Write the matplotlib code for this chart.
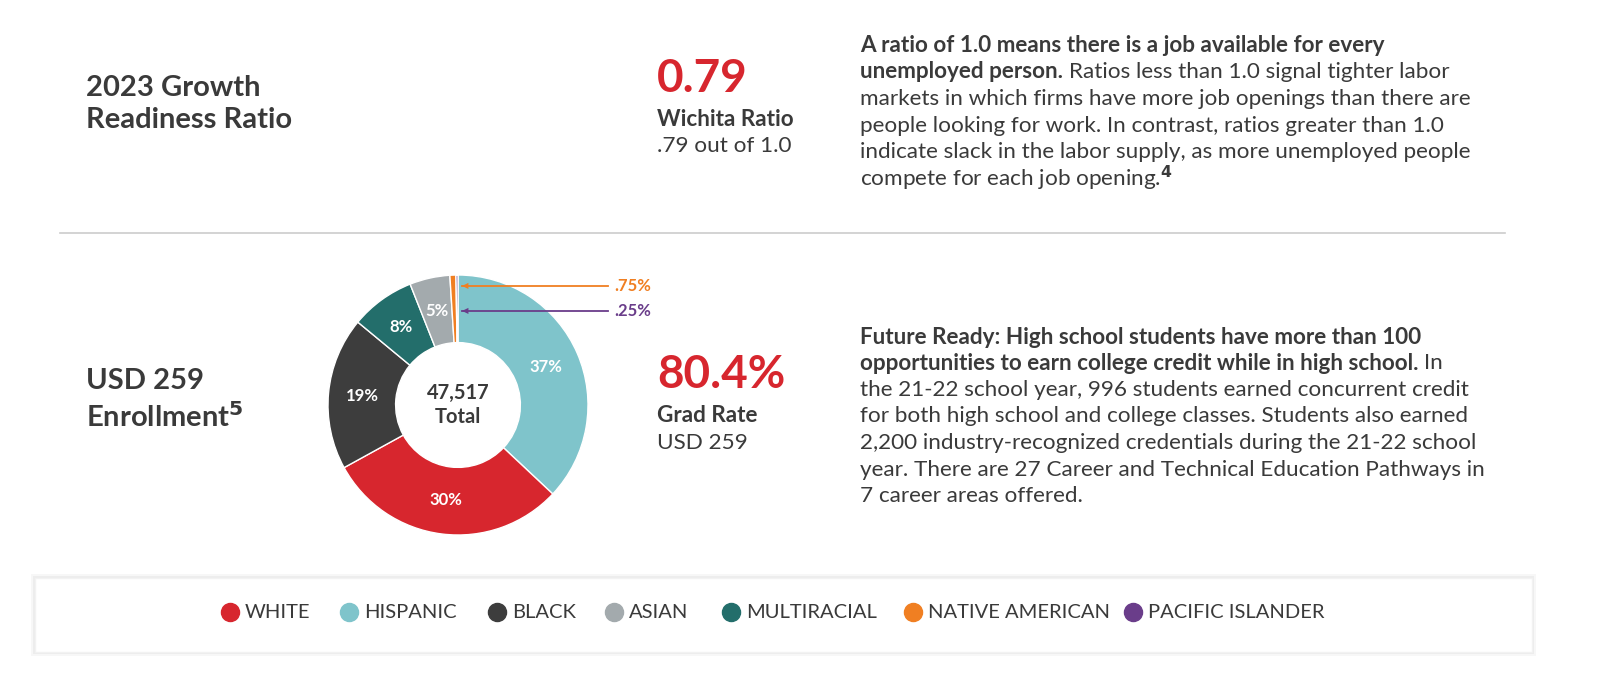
import matplotlib
matplotlib.use("Agg")
import matplotlib.pyplot as plt
from matplotlib.patches import FancyBboxPatch

plt.rcParams['font.family'] = ['Lato', 'DejaVu Sans']

groups = ["HISPANIC", "WHITE", "BLACK", "MULTIRACIAL", "ASIAN", "NATIVE AMERICAN", "PACIFIC ISLANDER"]
shares = [37, 30, 19, 8, 5, 0.75, 0.25]
labels = ["37%", "30%", "19%", "8%", "5%", "", ""]
colors = ["#7fc4cb", "#d7262e", "#3d3d3d", "#236e6b", "#a3aaad", "#f07f22", "#6a3d8a"]
legend_order = ["WHITE", "HISPANIC", "BLACK", "ASIAN", "MULTIRACIAL", "NATIVE AMERICAN", "PACIFIC ISLANDER"]
legend_x = [230, 349, 497, 614, 731, 913, 1133]

W, H = 1600, 695
fig = plt.figure(figsize=(16, 6.95), dpi=100)
fig.patch.set_facecolor("white")
renderer = fig.canvas.get_renderer()

def T(x, y, s, **kw):
    return fig.text(x / W, 1 - y / H, s, **kw)

dark = "#3a3a3a"
red = "#d7262e"
PF = 16.2
T(86, 104, "2023 Growth\nReadiness Ratio", fontsize=21, fontweight="bold", color=dark, va="center", linespacing=1.3)
T(657, 79, "0.79", fontsize=33, fontweight="bold", color=red, va="center")
T(657, 120, "Wichita Ratio", fontsize=PF, fontweight="bold", color=dark, va="center")
T(657, 146, ".79 out of 1.0", fontsize=PF, color=dark, va="center")

def mixed(x, y, bold, regular):
    t = T(x, y, bold, fontsize=PF, fontweight="bold", color=dark, va="center")
    bb = t.get_window_extent(renderer)
    T(bb.x1 + 6, y, regular, fontsize=PF, color=dark, va="center")

T(860, 45, "A ratio of 1.0 means there is a job available for every", fontsize=PF, fontweight="bold", color=dark, va="center")
mixed(860, 72, "unemployed person.", "Ratios less than 1.0 signal tighter labor")
para1 = ["markets in which firms have more job openings than there are",
         "people looking for work. In contrast, ratios greater than 1.0",
         "indicate slack in the labor supply, as more unemployed people",
         "compete for each job opening.$^{\\mathbf{4}}$"]
for i, s in enumerate(para1):
    T(860, 99 + 26.5 * i, s, fontsize=PF, color=dark, va="center")

fig.add_artist(plt.Line2D([60 / W, 1505 / W], [1 - 233 / H] * 2, color="#cccccc", lw=1.2))

T(86, 400, "USD 259\nEnrollment$^{\\mathbf{5}}$", fontsize=21, fontweight="bold", color=dark, va="center", linespacing=1.3)
T(657, 375, "80.4%", fontsize=33, fontweight="bold", color=red, va="center")
T(657, 416, "Grad Rate", fontsize=PF, fontweight="bold", color=dark, va="center")
T(657, 443, "USD 259", fontsize=PF, color=dark, va="center")

T(860, 337, "Future Ready: High school students have more than 100", fontsize=PF, fontweight="bold", color=dark, va="center")
mixed(860, 363, "opportunities to earn college credit while in high school.", "In")
para2 = ["the 21-22 school year, 996 students earned concurrent credit",
         "for both high school and college classes. Students also earned",
         "2,200 industry-recognized credentials during the 21-22 school",
         "year. There are 27 Career and Technical Education Pathways in",
         "7 career areas offered."]
for i, s in enumerate(para2):
    T(860, 390 + 26.5 * i, s, fontsize=PF, color=dark, va="center")

# donut
cx, cy, R = 458, 405, 130
ax = fig.add_axes([(cx - R) / W, (H - cy - R) / H, 2 * R / W, 2 * R / H])
wedges, texts = ax.pie(shares, colors=colors, startangle=90, counterclock=False, radius=1,
                       wedgeprops=dict(width=0.52, edgecolor="white", linewidth=1),
                       labels=labels, labeldistance=0.74,
                       textprops=dict(color="white", fontsize=12, fontweight="bold", ha="center", va="center"))
ax.set_xlim(-1, 1); ax.set_ylim(-1, 1); ax.set_aspect("equal"); ax.axis("off")
ax.text(0, 0, "47,517\nTotal", ha="center", va="center", fontsize=14.5, fontweight="bold", color=dark, linespacing=1.3)

for ytxt, txt, col in [(286, ".75%", "#f07f22"), (311, ".25%", "#6a3d8a")]:
    fig.add_artist(plt.Line2D([462 / W, 608 / W], [1 - ytxt / H] * 2, color=col, lw=1.3))
    fig.text(462 / W, 1 - ytxt / H, "◀", color=col, fontsize=6, ha="left", va="center", family="DejaVu Sans")
    T(614, ytxt, txt, fontsize=12, fontweight="bold", color=col, va="center")

# legend box
for off, a in [(4, 0.03), (2, 0.04)]:
    fig.add_artist(FancyBboxPatch(((35 - off) / W, (H - 652 - off) / H), (1497 + 2 * off) / W, (74 + 2 * off) / H,
                                  boxstyle="square,pad=0", fc="black", ec="none", alpha=a))
fig.add_artist(FancyBboxPatch((35 / W, (H - 652) / H), 1497 / W, 74 / H, boxstyle="square,pad=0", fc="white", ec="#f2f2f2"))
for name, x in zip(legend_order, legend_x):
    c = colors[groups.index(name)]
    fig.add_artist(plt.Line2D([x / W], [1 - 612 / H], marker="o", markersize=13, color=c, ls=""))
    T(x + 15, 612, name, fontsize=14.5, color=dark, va="center")

fig.savefig("out.png", dpi=100, facecolor="white")
